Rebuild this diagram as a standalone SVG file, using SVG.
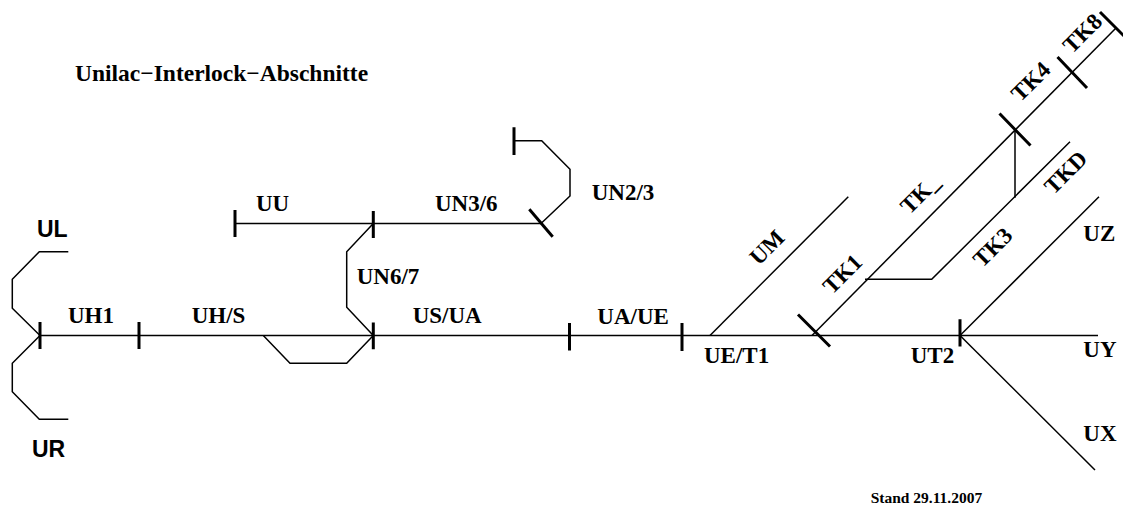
<svg xmlns="http://www.w3.org/2000/svg" width="1123" height="505" viewBox="0 0 1123 505">
<style>
.t{fill:none;stroke:#000;stroke-width:1.5;stroke-linejoin:miter}
.k{fill:none;stroke:#000;stroke-width:3}
.s{font-family:"Liberation Serif","Times New Roman",serif;font-weight:bold;font-size:23px;fill:#000}
.h{font-family:"Liberation Sans",Arial,sans-serif;font-weight:bold;font-size:23px;fill:#000}
</style>
<rect width="1123" height="505" fill="#fff"/>
<g id="connectors">
<path class="t" d="M40,335.5 H1098"/>
<path class="t" d="M40,335.5 L12.3,308.3 V279.3 L39.3,251.7 H68.3"/>
<path class="t" d="M40,335.5 L12.3,363.3 V391.7 L39.3,419.3 H68.3"/>
<path class="t" d="M263.3,335.5 L290,363.3 H346.7 L373.3,335.5"/>
<path class="t" d="M373.3,335.5 L346.7,307.3 V251.7 L373.3,223.5"/>
<path class="t" d="M235,223.5 H541"/>
<path class="t" d="M541,223.5 L570,196 V169.3 L541.7,140.7 H514"/>
<path class="t" d="M710,335.5 L848.3,196.7"/>
<path class="t" d="M812,335.5 L1116,28"/>
<path class="t" d="M865,279.3 H931.7 L1070,141.7"/>
<path class="t" d="M1015,130 V197.7"/>
<path class="t" d="M960,335.5 L1099,196.7"/>
<path class="t" d="M960,335.5 L1095,470"/>
</g>
<g id="ticks">
<path class="k" d="M40,322 V349 M139,322 V349 M373.3,322.5 V349.3 M569.5,323 V350.5 M682,323 V351 M960,319.3 V346.5"/>
<path class="k" d="M235,210 V237 M373.3,211 V238 M514,127.3 V155"/>
<path class="k" d="M529.3,209.3 L552.7,236.7"/>
<path class="k" d="M798,314.5 L830,346.5 M999.5,113.5 L1030.5,145.5 M1057.5,57 L1087,88 M1100,12 L1132,44"/>
</g>
<g id="labels">
<text class="s" x="75" y="81" style="font-size:23.5px">Unilac−Interlock−Abschnitte</text>
<g id="UL"><text class="h" x="37" y="237">UL</text></g>
<g id="UR"><text class="h" x="32" y="457">UR</text></g>
<g id="UH1"><text class="s" x="68" y="322.7">UH1</text></g>
<g id="UHS"><text class="s" x="191.7" y="322.7">UH/S</text></g>
<g id="UU"><text class="s" x="256" y="210.7">UU</text></g>
<g id="UN67"><text class="s" x="356.7" y="284">UN6/7</text></g>
<g id="UN36"><text class="s" x="435" y="210.7">UN3/6</text></g>
<g id="UN23"><text class="s" x="591.7" y="200">UN2/3</text></g>
<g id="USUA"><text class="s" x="412.7" y="323.3">US/UA</text></g>
<g id="UAUE"><text class="s" x="597.3" y="324.3">UA/UE</text></g>
<g id="UET1"><text class="s" x="704" y="363.3">UE/T1</text></g>
<g id="UT2"><text class="s" x="910.7" y="363.3">UT2</text></g>
<g id="UZ"><text class="s" x="1083.3" y="240.7">UZ</text></g>
<g id="UY"><text class="s" x="1083.3" y="356.7">UY</text></g>
<g id="UX"><text class="s" x="1083.3" y="440.7">UX</text></g>
<g id="UM"><text class="s" text-anchor="middle" transform="translate(772.3,252.6) rotate(-45)">UM</text></g>
<g id="TK1"><text class="s" text-anchor="middle" transform="translate(847.8,279.5) rotate(-45)">TK1</text></g>
<g id="TK_"><text class="s" transform="translate(909.4,215.3) rotate(-45)">TK_</text></g>
<g id="TK3"><text class="s" text-anchor="middle" transform="translate(998.1,252.8) rotate(-45)">TK3</text></g>
<g id="TKD"><text class="s" text-anchor="middle" transform="translate(1071.1,177.8) rotate(-45)">TKD</text></g>
<g id="TK4"><text class="s" text-anchor="middle" transform="translate(1036.1,87) rotate(-45)">TK4</text></g>
<g id="TK8"><text class="s" text-anchor="middle" transform="translate(1087.8,38.6) rotate(-45)">TK8</text></g>
<text class="s" x="870.7" y="502.5" style="font-size:15.5px">Stand 29.11.2007</text>
</g>
</svg>
